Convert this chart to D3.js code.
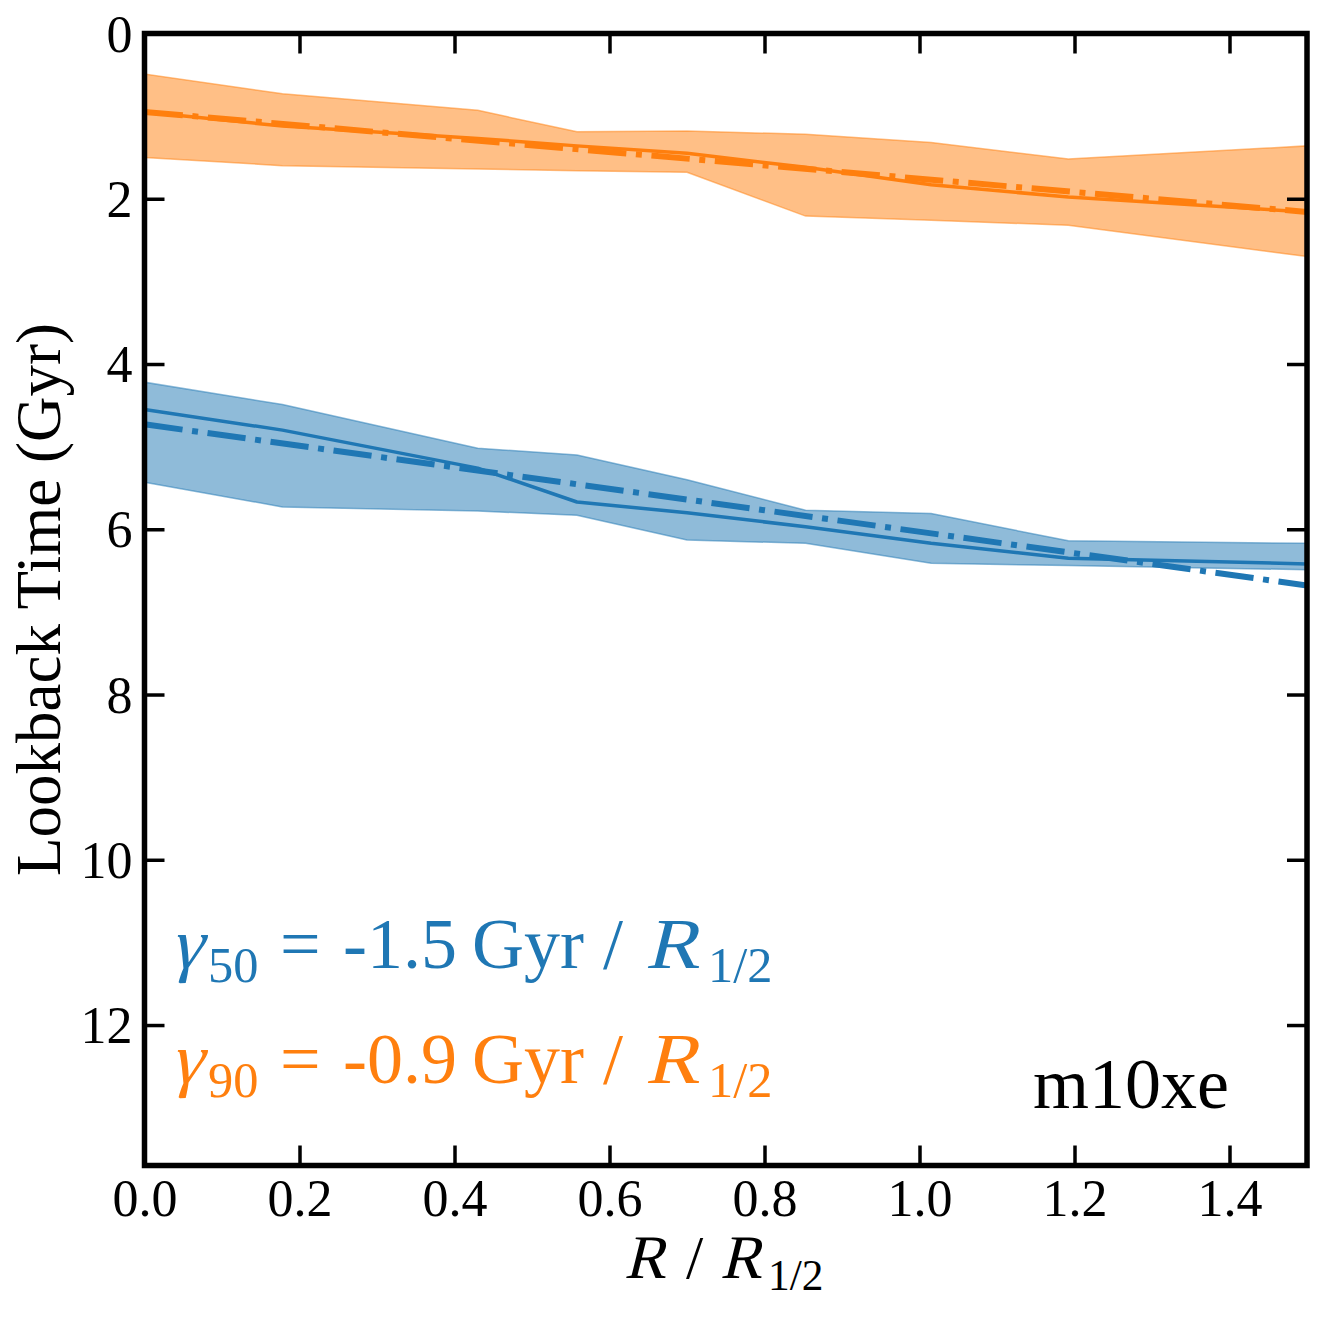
<!DOCTYPE html>
<html>
<head>
<meta charset="utf-8">
<script src="https://cdn.jsdelivr.net/npm/d3@7"></script>
<style>
  html, body { margin: 0; padding: 0; background: #fff; }
  svg { display: block; }
  text { font-family: "Liberation Serif", "Times New Roman", serif; }
</style>
</head>
<body>
<div id="chart"></div>
<script>
// ---------- data ----------
const radius     = [0, 0.178, 0.43, 0.558, 0.70, 0.853, 1.015, 1.192, 1.5];
const t50Median  = [4.55, 4.80, 5.26, 5.67, 5.80, 5.97, 6.17, 6.35, 6.42];
const t50Low     = [4.22, 4.49, 5.02, 5.10, 5.40, 5.77, 5.81, 6.14, 6.17];
const t50High    = [5.43, 5.73, 5.78, 5.83, 6.13, 6.17, 6.41, 6.44, 6.49];
const t90Median  = [0.95, 1.12, 1.27, 1.36, 1.45, 1.62, 1.83, 1.98, 2.16];
const t90Low     = [0.49, 0.73, 0.93, 1.19, 1.18, 1.22, 1.32, 1.52, 1.36];
const t90High    = [1.50, 1.60, 1.64, 1.66, 1.68, 2.21, 2.26, 2.32, 2.70];
const fitRadius  = [0, 1.5];
const fit50      = [4.73, 6.68];
const fit90      = [0.95, 2.16];
const xTicks     = [0, 0.2, 0.4, 0.6, 0.8, 1.0, 1.2, 1.4];
const yTicks     = [0, 2, 4, 6, 8, 10, 12];
const galaxyName = "m10xe";
const gamma50    = "-1.5";
const gamma90    = "-0.9";

const BLUE = "#1f77b4", ORANGE = "#ff7f0e";

// ---------- layout ----------
const W = 1322, H = 1317;
const mL = 144.5, mR = 1307, mT = 33.5, mB = 1165.5;

const svg = d3.select("#chart").append("svg").attr("width", W).attr("height", H);
svg.append("rect").attr("width", W).attr("height", H).attr("fill", "#fff");

const x = d3.scaleLinear().domain([0, 1.5]).range([mL, mR]);
const y = d3.scaleLinear().domain([0, 13.7]).range([mT, mB]);

svg.append("clipPath").attr("id", "clip").append("rect")
  .attr("x", mL).attr("y", mT).attr("width", mR - mL).attr("height", mB - mT);
const plot = svg.append("g").attr("clip-path", "url(#clip)");

function band(lo, hi, color) {
  const d = radius.map((r, i) => ({ r, lo: lo[i], hi: hi[i] }));
  const area = d3.area().x(p => x(p.r)).y0(p => y(p.lo)).y1(p => y(p.hi));
  plot.append("path").attr("d", area(d))
    .attr("fill", color).attr("fill-opacity", 0.5)
    .attr("stroke", color).attr("stroke-opacity", 0.5).attr("stroke-width", 1.5);
}
function line(xs, ys, color, width, dash) {
  const d = xs.map((r, i) => [r, ys[i]]);
  const l = d3.line().x(p => x(p[0])).y(p => y(p[1]));
  const p = plot.append("path").attr("d", l(d)).attr("fill", "none")
    .attr("stroke", color).attr("stroke-width", width)
    .attr("stroke-linejoin", "round");
  if (dash) p.attr("stroke-dasharray", dash).attr("stroke-linecap", "butt");
}

band(t50Low, t50High, BLUE);
band(t90Low, t90High, ORANGE);
line(radius, t50Median, BLUE, 3.5);
line(radius, t90Median, ORANGE, 3.5);
const DD = "38.4,9.6,6,9.6";
line(fitRadius, fit50, BLUE, 6, DD);
line(fitRadius, fit90, ORANGE, 6, DD);

// ---------- axes (ticks inward on all sides) ----------
const TL = 20;
const fmtX = d3.format(".1f");
const xb = d3.axisBottom(x).tickValues(xTicks).tickSize(-TL).tickPadding(16).tickFormat(fmtX);
const xt = d3.axisTop(x).tickValues(xTicks).tickSize(-TL).tickFormat("");
const yl = d3.axisLeft(y).tickValues(yTicks).tickSize(-TL).tickPadding(12).tickFormat(d3.format("d"));
const yr = d3.axisRight(y).tickValues(yTicks).tickSize(-TL).tickFormat("");

function styleAxis(g) {
  g.select(".domain").remove();
  g.selectAll(".tick line").attr("stroke", "#000").attr("stroke-width", 3.5);
  g.selectAll(".tick text").attr("fill", "#000")
    .style("font-family", '"Liberation Serif", serif').style("font-size", "52px");
}
const gxb = svg.append("g").attr("transform", `translate(0,${mB})`).call(xb).call(styleAxis);
gxb.selectAll(".tick text").attr("dy", null).attr("y", 50);
svg.append("g").attr("transform", `translate(0,${mT})`).call(xt).call(styleAxis);
const gyl = svg.append("g").attr("transform", `translate(${mL},0)`).call(yl).call(styleAxis);
gyl.selectAll(".tick text").attr("dy", "0.34em").attr("x", -12);
svg.append("g").attr("transform", `translate(${mR},0)`).call(yr).call(styleAxis);

// frame
svg.append("rect").attr("x", mL).attr("y", mT)
  .attr("width", mR - mL).attr("height", mB - mT)
  .attr("fill", "none").attr("stroke", "#000").attr("stroke-width", 5.5);

// ---------- labels ----------
svg.append("text")
  .attr("transform", `translate(60,${(mT + mB) / 2}) rotate(-90)`)
  .attr("text-anchor", "middle").style("font-size", "63px").attr("fill", "#000")
  .text("Lookback Time (Gyr)");

// math-like text: italic pieces are slanted serif glyphs (skew), subscripts smaller & lowered
function richText(parent, pieces, baseY, size, color) {
  const g = parent.append("g").attr("fill", color);
  pieces.forEach(p => {
    const fs = p.sub ? size * 0.7 : size;
    const by = p.sub ? baseY + size * 0.19 : baseY;
    const t = g.append("text").text(p.t).style("font-size", fs + "px");
    if (p.it) t.attr("transform", `translate(${p.x},${by}) skewX(-14) scale(${p.sx || 1},1)`);
    else t.attr("x", p.x).attr("y", by);
  });
  return g;
}

// x label: R / R_{1/2}
richText(svg, [
  { t: "R", it: true, x: 624 },
  { t: "/", x: 686 },
  { t: "R", it: true, x: 720 },
  { t: "1/2", sub: true, x: 768 }
], 1278, 62, "#000");

// gamma annotations
function gammaLine(sub, val, baseY, color) {
  richText(svg, [
    { t: "γ", it: true, x: 170 },
    { t: sub, sub: true, x: 208 },
    { t: "=", x: 280 },
    { t: val, x: 343 },
    { t: "Gyr", x: 472 },
    { t: "/", x: 603 },
    { t: "R", it: true, x: 645, sx: 1.12 },
    { t: "1/2", sub: true, x: 708 }
  ], baseY, 72, color);
}
gammaLine("50", gamma50, 968, BLUE);
gammaLine("90", gamma90, 1083, ORANGE);

svg.append("text").attr("x", 1229).attr("y", 1108).attr("text-anchor", "end")
  .style("font-size", "72px").attr("fill", "#000").text(galaxyName);
</script>
</body>
</html>
